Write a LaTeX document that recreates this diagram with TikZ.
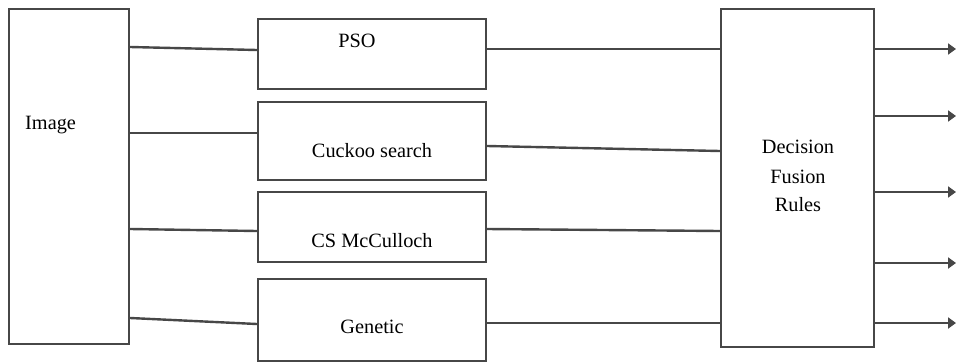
\documentclass[tikz,border=0pt]{standalone}
\usepackage{fontspec}
\setmainfont{Liberation Serif}
\usetikzlibrary{arrows.meta}
\begin{document}
\begin{tikzpicture}[x=1pt,y=-1pt,
  box/.style={draw=black!72,line width=2.4pt,inner sep=0pt,fill=white},
  lbl/.style={inner sep=0pt,anchor=base,font=\rmfamily\fontsize{20.3}{29}\selectfont,text=black},
  conn/.style={draw=black!72,line width=2.4pt},
  outarrow/.style={conn,-{Triangle[length=8pt,width=11pt]}}]
\useasboundingbox (0,0) rectangle (956,362);
% boxes
\node[box,minimum width=120pt,minimum height=335pt] (img) at (69,176.5) {};
\node[box,minimum width=228pt,minimum height=70pt] (pso) at (372,54) {};
\node[box,minimum width=228pt,minimum height=78pt] (cuckoo) at (372,141) {};
\node[box,minimum width=228pt,minimum height=70pt] (csm) at (372,227) {};
\node[box,minimum width=228pt,minimum height=82pt] (gen) at (372,320) {};
\node[box,minimum width=153pt,minimum height=338pt] (dfr) at (797.5,178) {};
% labels
\node[lbl,anchor=base west] (imgt) at (25,129) {Image};
\node[lbl] (psot) at (357,47) {PSO};
\node[lbl] (cuckoot) at (372,157) {Cuckoo search};
\node[lbl] (csmt) at (372,247) {CS McCulloch};
\node[lbl] (gent) at (372,333) {Genetic};
\node[lbl] (dfrt1) at (798,153) {Decision};
\node[lbl] (dfrt2) at (798,183) {Fusion};
\node[lbl] (dfrt3) at (798,211) {Rules};
% connectors image -> methods
\draw[conn] (img.east |- 0,47) -- (pso.west |- 0,50);
\draw[conn] (img.east |- 0,133) -- (cuckoo.west |- 0,133);
\draw[conn] (img.east |- 0,229) -- (csm.west |- 0,231);
\draw[conn] (img.east |- 0,318) -- (gen.west |- 0,324);
% connectors methods -> decision
\draw[conn] (pso.east |- 0,49) -- (dfr.west |- 0,49);
\draw[conn] (cuckoo.east |- 0,146) -- (dfr.west |- 0,151);
\draw[conn] (csm.east |- 0,229) -- (dfr.west |- 0,231);
\draw[conn] (gen.east |- 0,323) -- (dfr.west |- 0,323);
% outputs
\coordinate (o1) at (956,49);
\coordinate (o2) at (956,116);
\coordinate (o3) at (956,192);
\coordinate (o4) at (956,263);
\coordinate (o5) at (956,323);
\draw[outarrow] (dfr.east |- o1) -- (o1);
\draw[outarrow] (dfr.east |- o2) -- (o2);
\draw[outarrow] (dfr.east |- o3) -- (o3);
\draw[outarrow] (dfr.east |- o4) -- (o4);
\draw[outarrow] (dfr.east |- o5) -- (o5);
\end{tikzpicture}
\end{document}
